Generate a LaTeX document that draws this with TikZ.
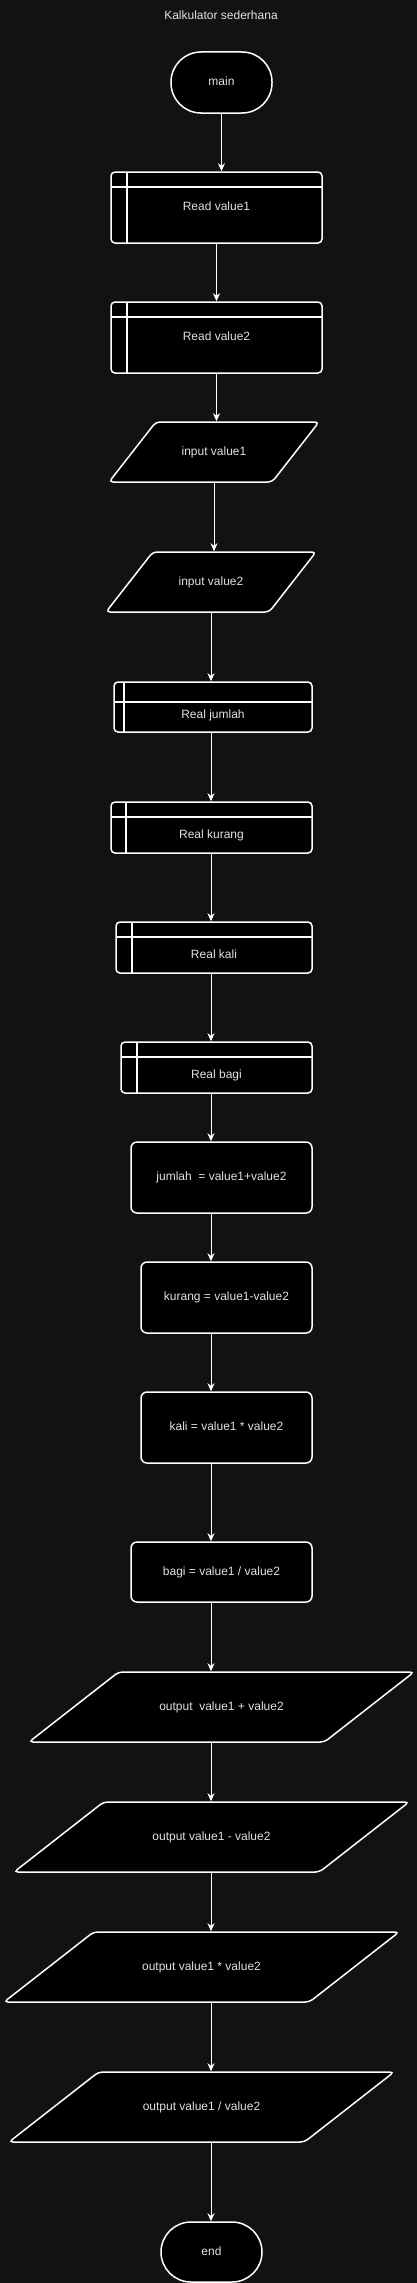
\documentclass[tikz,border=0pt]{standalone}
\usepackage{fontspec}
\setmainfont{Liberation Sans}
\usepackage{tikz}
\usetikzlibrary{arrows.meta}
\usetikzlibrary{shapes.geometric}

\definecolor{bgdark}{HTML}{121212}
\definecolor{inkgray}{HTML}{E1E1E1}

\begin{document}
\begin{tikzpicture}[x=1pt,y=-1pt,draw=white,font=\fontsize{12pt}{14pt}\selectfont]
	\def \axis{211}
	\tikzstyle{base}=[draw=white,fill=black,text=inkgray,line width=1.5pt,inner sep=2pt,text height=9pt,text depth=3pt]
	\tikzstyle{t-node}=[base,rounded corners=30pt,minimum width=101pt,minimum height=61pt]
	\tikzstyle{p-node}=[base,rounded corners=6pt,minimum height=71pt]
	% slant is taken from the text box height, so the box is made as tall as the shape
	\tikzstyle{i-node}=[base,trapezium,trapezium left angle=52,trapezium right angle=128,trapezium stretches body=true,rounded corners=4pt,text height=31pt,text depth=25pt,minimum width=210pt]
	\tikzstyle{o-node}=[base,trapezium,trapezium left angle=38,trapezium right angle=142,trapezium stretches body=true,rounded corners=4pt,text height=36pt,text depth=30pt]
	\tikzstyle{lowered}=[text height=25pt]
	\tikzstyle{annot}=[text=inkgray]
	\tikzstyle{flow}=[white,line width=1pt,-{Stealth[length=8pt,width=7pt,inset=2.5pt]}]
	\tikzset{s-node/.style 2 args={base,rounded corners=4pt,
		path picture={\draw[white,line width=1.5pt] ([xshift=#1]path picture bounding box.north west) -- ([xshift=#1]path picture bounding box.south west);
			\draw[white,line width=1.5pt] ([yshift=-#2]path picture bounding box.north west) -- ([yshift=-#2]path picture bounding box.north east);}}}

	% background
	\fill[bgdark] (0,0) rectangle (417,2283);
	\useasboundingbox (0,0) rectangle (417,2283);

	% title
	\node[annot] (title) at (221,15) {Kalkulator sederhana};

	% start and reading
	\node[t-node] (t0) at (221.5,82.5) {main};
	\node[s-node={16pt}{15pt},minimum width=211pt,minimum height=71pt] (s1) at (216.5,207.5) {Read value1};
	\node[s-node={16pt}{15pt},minimum width=211pt,minimum height=71pt] (s2) at (216.5,337.5) {Read value2};
	\node[i-node] (i1) at (214,452) {input value1};
	\node[i-node] (i2) at (211,582) {input value2};

	% declarations
	\node[s-node={10pt}{20pt},lowered,minimum width=198pt,minimum height=50pt] (d1) at (213,707) {Real jumlah};
	\node[s-node={15pt}{15pt},lowered,minimum width=201pt,minimum height=51pt] (d2) at (211.5,827.5) {Real kurang};
	\node[s-node={16pt}{15pt},lowered,minimum width=196pt,minimum height=51pt] (d3) at (214,947.5) {Real kali};
	\node[s-node={16pt}{15pt},lowered,minimum width=191pt,minimum height=51pt] (d4) at (216.5,1067.5) {Real bagi};

	% processing
	\node[p-node,minimum width=181pt] (p1) at (221.5,1177.5) {jumlah\ \ = value1+value2};
	\node[p-node,minimum width=171pt] (p2) at (226.5,1297.5) {kurang = value1-value2};
	\node[p-node,minimum width=171pt] (p3) at (226.5,1427.5) {kali = value1 * value2};
	\node[p-node,minimum width=181pt,minimum height=60pt] (p4) at (221.5,1572) {bagi = value1 / value2};

	% output
	\node[o-node,minimum width=385pt] (o1) at (221.5,1707) {output\ \ value1 + value2};
	\node[o-node,minimum width=395pt] (o2) at (211.5,1837) {output value1 - value2};
	\node[o-node,minimum width=395pt] (o3) at (201.5,1967) {output value1 * value2};
	\node[o-node,minimum width=385pt] (o4) at (201.5,2107) {output value1 / value2};
	\node[t-node,minimum height=60pt] (t1) at (211.5,2252) {end};

	\coordinate (axis) at (\axis,0);
	\path[flow] (t0.south)	edge	(t0.south |- s1.north)
		(s1.south)	edge	(s2.north)
		(s2.south)	edge	(s2.south |- i1.north)
		(i1.south)	edge	(i1.south |- i2.north)
		(i2.south)	edge	(i2.south |- d1.north)
		(d1.south -| axis)	edge	(d2.north -| axis)
		(d2.south -| axis)	edge	(d3.north -| axis)
		(d3.south -| axis)	edge	(d4.north -| axis)
		(d4.south -| axis)	edge	(p1.north -| axis)
		(p1.south -| axis)	edge	(p2.north -| axis)
		(p2.south -| axis)	edge	(p3.north -| axis)
		(p3.south -| axis)	edge	(p4.north -| axis)
		(p4.south -| axis)	edge	(o1.north -| axis)
		(o1.south -| axis)	edge	(o2.north -| axis)
		(o2.south -| axis)	edge	(o3.north -| axis)
		(o3.south -| axis)	edge	(o4.north -| axis)
		(o4.south -| axis)	edge	(t1.north -| axis);
\end{tikzpicture}
\end{document}
